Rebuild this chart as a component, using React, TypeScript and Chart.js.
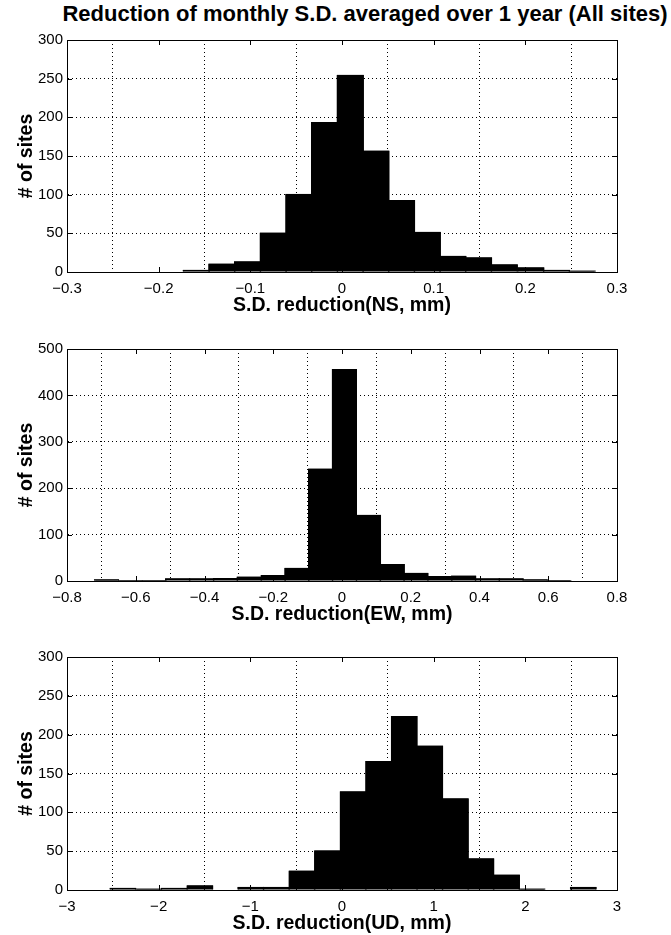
import React, { useEffect, useRef } from "react";
import { Chart, registerables } from "chart.js";

Chart.register(...registerables);

// ---------- DATA ----------
const mainTitle = "Reduction of monthly S.D. averaged over 1 year (All sites)";
const yTitle = "# of sites";

// Panel 1 (NS)
const nsCenters = [-0.159, -0.131, -0.103, -0.075, -0.047, -0.019, 0.009, 0.037, 0.065, 0.093, 0.121, 0.149, 0.177, 0.206, 0.234, 0.262];
const nsCounts = [2, 10, 13, 50, 100, 193, 254, 156, 92, 51, 20, 18, 9, 5, 2, 1];
const nsXTicks = [-0.3, -0.2, -0.1, 0, 0.1, 0.2, 0.3];
const nsYTicks = [0, 50, 100, 150, 200, 250, 300];
const nsXTitle = "S.D. reduction(NS, mm)";

// Panel 2 (EW)
const ewCenters = [-0.685, -0.616, -0.547, -0.478, -0.408, -0.339, -0.270, -0.200, -0.131, -0.062, 0.007, 0.077, 0.146, 0.215, 0.285, 0.354, 0.423, 0.492, 0.562, 0.631];
const ewCounts = [2, 1, 1, 4, 4, 5, 8, 11, 27, 241, 455, 141, 35, 16, 9, 10, 4, 4, 2, 1];
const ewXTicks = [-0.8, -0.6, -0.4, -0.2, 0, 0.2, 0.4, 0.6, 0.8];
const ewYTicks = [0, 100, 200, 300, 400, 500];
const ewXTitle = "S.D. reduction(EW, mm)";

// Panel 3 (UD)
const udCenters = [-2.39, -2.11, -1.83, -1.55, -1.27, -0.995, -0.716, -0.437, -0.158, 0.121, 0.4, 0.679, 0.958, 1.237, 1.516, 1.795, 2.074, 2.353, 2.632];
const udCounts = [2, 1, 2, 5, 0, 3, 3, 24, 50, 126, 165, 223, 185, 117, 40, 19, 1, 0, 3];
const udXTicks = [-3, -2, -1, 0, 1, 2, 3];
const udYTicks = [0, 50, 100, 150, 200, 250, 300];
const udXTitle = "S.D. reduction(UD, mm)";

// ---------- LAYOUT ----------
const FONT = "'Liberation Sans', Arial, sans-serif";
const W = 671;

function fmt(v: number): string {
  const r = Math.round(v * 1000) / 1000;
  if (r === 0) return "0";
  const s = Math.abs(r).toString();
  return (r < 0 ? "\u2212" : "") + s;
}

const boxPlugin = {
  id: "matlabBox",
  afterDraw(chart: any) {
    const { ctx, chartArea } = chart;
    const { left, right, top, bottom } = chartArea;
    ctx.save();
    ctx.strokeStyle = "#000";
    ctx.lineWidth = 1;
    ctx.setLineDash([]);
    ctx.strokeRect(Math.round(left) + 0.5, Math.round(top) + 0.5, Math.round(right - left), Math.round(bottom - top));
    const xs = chart.scales.x;
    const ys = chart.scales.y;
    const tl = 5;
    ctx.beginPath();
    xs.ticks.forEach((t: any) => {
      const px = Math.round(xs.getPixelForValue(t.value)) + 0.5;
      ctx.moveTo(px, bottom);
      ctx.lineTo(px, bottom - tl);
      ctx.moveTo(px, top);
      ctx.lineTo(px, top + tl);
    });
    ys.ticks.forEach((t: any) => {
      const py = Math.round(ys.getPixelForValue(t.value)) + 0.5;
      ctx.moveTo(left, py);
      ctx.lineTo(left + tl, py);
      ctx.moveTo(right, py);
      ctx.lineTo(right - tl, py);
    });
    ctx.stroke();
    ctx.restore();
  },
};

type PanelProps = {
  top: number;
  height: number;
  areaTop: number;
  areaBottom: number;
  centers: number[];
  counts: number[];
  xTicks: number[];
  yTicks: number[];
  xTitle: string;
};

const AREA_LEFT = 67;
const AREA_RIGHT = 617;
const XAXIS_H = 45;

function Panel(p: PanelProps) {
  const ref = useRef<HTMLCanvasElement | null>(null);
  useEffect(() => {
    if (!ref.current) return;
    const data = p.centers.map((c, i) => ({ x: c, y: p.counts[i] }));
    const chart = new Chart(ref.current, {
      type: "bar",
      data: {
        datasets: [
          {
            data: data as any,
            backgroundColor: "#000",
            borderColor: "#000",
            borderWidth: 0.01,
            inflateAmount: 0.8,
            barPercentage: 1,
            categoryPercentage: 1,
          },
        ],
      },
      plugins: [boxPlugin],
      options: {
        animation: false,
        responsive: false,
        maintainAspectRatio: false,
        events: [],
        layout: {
          padding: {
            left: 0,
            right: W - AREA_RIGHT,
            top: p.areaTop - p.top,
            bottom: p.top + p.height - p.areaBottom - XAXIS_H,
          },
        },
        plugins: { legend: { display: false }, tooltip: { enabled: false }, title: { display: false } },
        scales: {
          x: {
            type: "linear",
            min: p.xTicks[0],
            max: p.xTicks[p.xTicks.length - 1],
            offset: false,
            afterBuildTicks: (s: any) => {
              s.ticks = p.xTicks.map((v) => ({ value: v }));
            },
            afterFit: (s: any) => {
              s.height = XAXIS_H;
            },
            ticks: {
              autoSkip: false,
              maxRotation: 0,
              padding: 8,
              color: "#000",
              font: { family: FONT, size: 15 },
              callback: (v: any) => fmt(Number(v)),
            },
            grid: { color: "#000", lineWidth: 1, drawTicks: false },
            border: { display: true, color: "#000", dash: [1, 3] },
            title: {
              display: true,
              text: p.xTitle,
              color: "#000",
              font: { family: FONT, size: 19.5, weight: "bold" },
              padding: { top: 0, bottom: 0 },
            },
          },
          y: {
            type: "linear",
            min: p.yTicks[0],
            max: p.yTicks[p.yTicks.length - 1],
            afterBuildTicks: (s: any) => {
              s.ticks = p.yTicks.map((v) => ({ value: v }));
            },
            afterFit: (s: any) => {
              s.width = AREA_LEFT;
            },
            ticks: {
              padding: 4,
              color: "#000",
              font: { family: FONT, size: 15 },
              callback: (v: any) => fmt(Number(v)),
            },
            grid: { color: "#000", lineWidth: 1, drawTicks: false },
            border: { display: true, color: "#000", dash: [1, 3] },
            title: {
              display: true,
              text: yTitle,
              color: "#000",
              font: { family: FONT, size: 19.5, weight: "bold" },
              padding: { top: 15, bottom: 0 },
            },
          },
        },
      } as any,
    });
    return () => chart.destroy();
  }, []);
  return (
    <canvas
      ref={ref}
      width={W}
      height={p.height}
      style={{ position: "absolute", left: 0, top: p.top, width: W, height: p.height }}
    />
  );
}

export default function App() {
  return (
    <div style={{ position: "fixed", left: 0, top: 0, width: W, height: 935, background: "#fff", overflow: "hidden" }}>
      <div
        style={{
          position: "absolute",
          left: 0,
          width: 730,
          top: 2,
          textAlign: "center",
          fontFamily: FONT,
          fontWeight: "bold",
          fontSize: 22,
          lineHeight: "24px",
          color: "#000",
          whiteSpace: "nowrap",
        }}
      >
        {mainTitle}
      </div>
      <Panel top={0} height={320} areaTop={40} areaBottom={272} centers={nsCenters} counts={nsCounts} xTicks={nsXTicks} yTicks={nsYTicks} xTitle={nsXTitle} />
      <Panel top={320} height={310} areaTop={349} areaBottom={581} centers={ewCenters} counts={ewCounts} xTicks={ewXTicks} yTicks={ewYTicks} xTitle={ewXTitle} />
      <Panel top={630} height={305} areaTop={657} areaBottom={890} centers={udCenters} counts={udCounts} xTicks={udXTicks} yTicks={udYTicks} xTitle={udXTitle} />
    </div>
  );
}
